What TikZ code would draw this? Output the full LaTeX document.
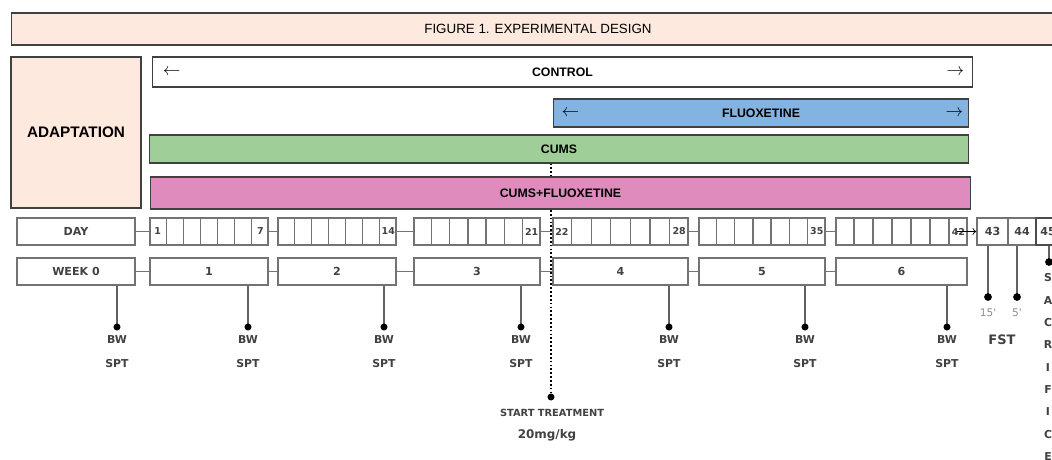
\documentclass[tikz,border=0pt]{standalone}
\usepackage{fontspec}
\setmainfont{Liberation Sans}
\newfontfamily\tlfont{DejaVu Sans}
\usetikzlibrary{calc}

\definecolor{peach}{RGB}{253,233,222}
\definecolor{fluoblue}{RGB}{131,179,224}
\definecolor{cumsgreen}{RGB}{160,206,152}
\definecolor{cumspink}{RGB}{224,139,190}
\definecolor{tlgray}{RGB}{115,115,115}
\definecolor{tltext}{RGB}{65,65,65}

\begin{document}
\begin{tikzpicture}[x=0.02cm, y=-0.02cm,
  bar/.style={draw=black!75, line width=0.6pt, inner sep=0pt, font=\bfseries\fontsize{7}{8}\selectfont},
  glyph/.style={inner sep=0pt, font=\normalsize},
  tlbox/.style={draw=tlgray, line width=1pt, minimum height=0.54cm, inner sep=0pt, text=tltext, font=\tlfont\bfseries\fontsize{6.3}{7}\selectfont},
  cell/.style={draw=tlgray, line width=0.8pt},
  link/.style={draw=tlgray, line width=1pt},
  stem/.style={draw=tlgray!85!black, line width=1pt},
  tlnum/.style={inner sep=0pt, text=tltext, font=\tlfont\bfseries\fontsize{5.4}{6}\selectfont},
  tllabel/.style={inner sep=0pt, text=tltext, font=\tlfont\bfseries\fontsize{6.2}{7}\selectfont},
  tllight/.style={inner sep=0pt, text=black!45, font=\tlfont\fontsize{6}{7}\selectfont}]
  \useasboundingbox (0,0) rectangle (1052,460);
  \clip (0,0) rectangle (1052,460);

  % header bars
  \node[bar, fill=peach, minimum width=21.08cm, minimum height=0.64cm, font=\fontsize{7.6}{9}\selectfont] (title) at (538,29) {FIGURE 1. EXPERIMENTAL DESIGN};
  \node[bar, fill=peach, minimum width=2.6cm, minimum height=3.02cm, font=\bfseries\fontsize{8.7}{10}\selectfont] (adapt) at (76,132.5) {ADAPTATION};
  \node[bar, fill=white, minimum width=16.42cm, minimum height=0.6cm] (ctrl) at (562.5,72) {CONTROL};
  \node[glyph] (ctrlL) at ($(ctrl.west)+(20,0)$) {$\leftarrow$};
  \node[glyph] (ctrlR) at ($(ctrl.east)+(-18,0)$) {$\rightarrow$};
  \node[bar, fill=fluoblue, minimum width=8.32cm, minimum height=0.56cm] (fluo) at (761,113) {FLUOXETINE};
  \node[glyph] (fluoL) at ($(fluo.west)+(18,0)$) {$\leftarrow$};
  \node[glyph] (fluoR) at ($(fluo.east)+(-15,0)$) {$\rightarrow$};
  \node[bar, fill=cumsgreen, minimum width=16.4cm, minimum height=0.56cm] (cums) at (559,149) {CUMS};

  % start of treatment
  \coordinate (start) at (551,397);
  \draw[line width=1.2pt, dash pattern=on 1pt off 1.2pt] (start |- cums.south) -- (start);
  \fill (start) circle[radius=2pt];
  \node[tllabel, font=\tlfont\bfseries\fontsize{5.6}{7}\selectfont] (treat) at (552,413) {START TREATMENT};
  \node[tllabel, font=\tlfont\bfseries\fontsize{6.8}{8}\selectfont] (dose) at (547,435) {20mg/kg};

  \node[bar, fill=cumspink, minimum width=16.42cm, minimum height=0.64cm] (mix) at (560.5,193) {CUMS+FLUOXETINE};

  % timeline
  \node[tlbox, minimum width=2.36cm] (lday) at (76,231.5) {DAY};
  \node[tlbox, minimum width=2.36cm] (lweek) at (76,271.5) {WEEK 0};
  \coordinate (m0) at (117,327);
  \draw[stem] (m0 |- lweek.south) -- (m0);
  \fill (m0) circle[radius=2pt];
  \node[tllabel] (bw0) at (117,340) {BW};
  \node[tllabel] (spt0) at (117,364) {SPT};

  \foreach \n/\cx/\w/\lst/\m in {1/209/2.36/7/248, 2/337/2.36/14/384, 3/477/2.52/21/521,
      4/620.5/2.70/28/669, 5/762/2.52/35/805, 6/901.5/2.62/42/947}{
    \node[tlbox, minimum width=\w cm] (d\n) at (\cx,231.5) {};
    \node[tlbox, minimum width=\w cm] (w\n) at (\cx,271.5) {\n};
    \foreach \i in {1,...,6}
      \draw[cell] ($(d\n.south west)!\i/7!(d\n.south east)$) -- ($(d\n.north west)!\i/7!(d\n.north east)$);
    \node[tlnum] (n\lst) at ($(d\n.west)!13/14!(d\n.east)$) {\lst};
    \coordinate (m\n) at (\m,327);
    \draw[stem] (m\n |- w\n.south) -- (m\n);
    \fill (m\n) circle[radius=2pt];
    \node[tllabel] (bw\n) at (\m,340) {BW};
    \node[tllabel] (spt\n) at (\m,364) {SPT};
  }
  \node[tlnum] (n1) at ($(d1.west)!1/14!(d1.east)$) {1};
  \node[tlnum] (n22) at ($(d4.west)!1/14!(d4.east)$) {22};

  \foreach \a/\b in {lday/d1, d1/d2, d2/d3, d3/d4, d4/d5, d5/d6,
      lweek/w1, w1/w2, w2/w3, w3/w4, w4/w5, w5/w6}
    \draw[link] (\a) -- (\b);

  % last days
  \node[tlbox, minimum width=0.62cm] (d43) at (992.5,231.5) {43};
  \node[tlbox, minimum width=0.56cm] (d44) at (1022,231.5) {44};
  \node[tlbox, minimum width=0.48cm, draw=black!70] (d45) at (1048,231.5) {45};
  \draw[->, line width=0.5pt] ([xshift=-6pt]d6.east) -- (d43.west);

  % FST
  \coordinate (f15) at (988,297);
  \coordinate (f5) at (1017,297);
  \draw[stem] (f15 |- d43.south) -- (f15);
  \draw[stem] (f5 |- d44.south) -- (f5);
  \fill (f15) circle[radius=2.2pt];
  \fill (f5) circle[radius=2.2pt];
  \node[tllight] (t15) at (988,313) {15'};
  \node[tllight] (t5) at (1017,313) {5'};
  \node[tllabel, font=\tlfont\bfseries\fontsize{7.4}{8}\selectfont] (fst) at (1002,340) {FST};

  % sacrifice
  \coordinate (sac) at (1049,262);
  \draw[stem] (sac |- d45.south) -- (sac);
  \fill (sac) circle[radius=2.2pt];
  \foreach \l [count=\k from 0] in {S,A,C,R,I,F,I,C,E}
    \node[tllabel] (sac\k) at (1048,{278+22.3*\k}) {\l};
\end{tikzpicture}
\end{document}
